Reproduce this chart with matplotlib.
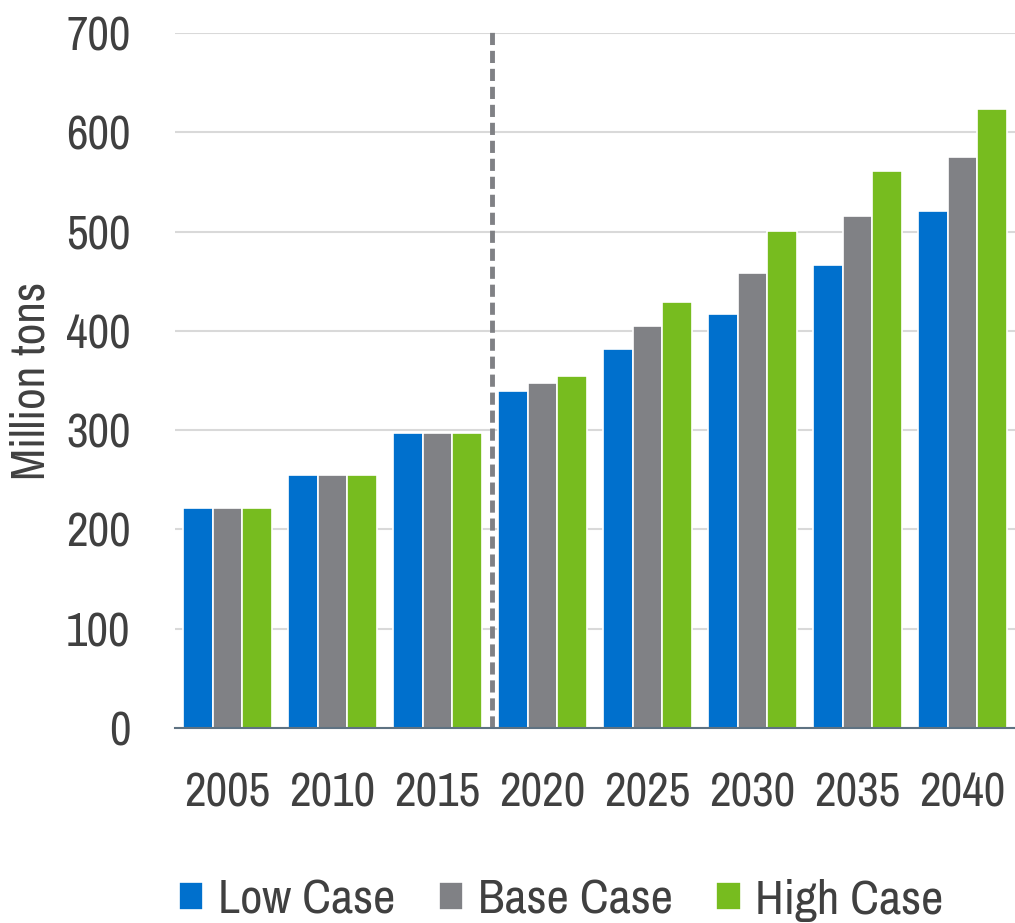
import matplotlib
matplotlib.use("Agg")
import matplotlib.pyplot as plt
import numpy as np
from matplotlib import font_manager

years = ["2005", "2010", "2015", "2020", "2025", "2030", "2035", "2040"]
low_case = [222, 255, 297, 339, 382, 417, 466, 521]
base_case = [222, 255, 297, 347, 405, 458, 516, 575]
high_case = [222, 255, 297, 355, 429, 501, 561, 623]
series_names = ["Low Case", "Base Case", "High Case"]
colors = ["#0070CD", "#808185", "#77BC1F"]

# pick a narrow sans face if one is installed
entries = font_manager.fontManager.ttflist
narrow = [f for f in entries if "Narrow" in f.name or "Narrow" in f.fname]
condensed = [f for f in entries if f.name == "DejaVu Sans" and str(f.stretch) in ("condensed", "semi-condensed", "600", "700")
             or "Condensed" in f.fname]
if narrow:
    fp = font_manager.FontProperties(fname=[f for f in narrow if "Bold" not in f.fname and "Italic" not in f.fname][0].fname)
elif condensed:
    cf = [f for f in condensed if "Bold" not in f.fname and "Oblique" not in f.fname and "Sans" in f.fname and "Mono" not in f.fname]
    fp = font_manager.FontProperties(fname=cf[0].fname)
else:
    fp = font_manager.FontProperties(family="Liberation Sans")

text_color = "#404040"

fig = plt.figure(figsize=(10.15, 9.23), dpi=100)
ax = fig.add_axes([175 / 1015, 1 - 728 / 923, 840 / 1015, (728 - 33) / 923])

x = np.arange(len(years))
w = 0.28
for i, (vals, name, c) in enumerate(zip([low_case, base_case, high_case], series_names, colors)):
    ax.bar(x + (i - 1) * w, vals, width=w, color=c, edgecolor="white", linewidth=1.2,
           label=name, zorder=3)

ax.set_xlim(-0.5, len(years) - 0.5)
ax.set_ylim(0, 700)
ax.set_yticks(range(0, 701, 100))
ax.yaxis.grid(True, color="#D9D9D9", linewidth=1.5, zorder=0)
ax.set_axisbelow(True)
for s in ["top", "right", "left"]:
    ax.spines[s].set_visible(False)
ax.spines["bottom"].set_color("#5E7282")
ax.spines["bottom"].set_linewidth(1.5)
ax.spines["bottom"].set_zorder(4)

ax.set_xticks(x)
ax.set_xticklabels(years)
ax.tick_params(axis="both", length=0, colors=text_color)
ax.tick_params(axis="x", pad=31)
ax.tick_params(axis="y", pad=32)
for t in ax.get_xticklabels() + ax.get_yticklabels():
    t.set_fontproperties(fp)
    t.set_fontsize(34)

ax.set_ylabel("Million tons", fontproperties=fp, fontsize=34, color=text_color, labelpad=10)

# forecast boundary
ax.plot([2.52, 2.52], [0, 706], linestyle=(0, (2.5, 1.2)), color="#808185",
        linewidth=3.5, clip_on=False, zorder=2)

lp = fp.copy()
lp.set_size(35)
leg = fig.legend(loc="lower center", bbox_to_anchor=(0.553, -0.03), ncol=3, frameon=False,
                 prop=lp, handlelength=0.5, handleheight=0.5, handletextpad=0.3,
                 columnspacing=0.9, labelcolor=text_color, borderaxespad=0.2)

fig.savefig("out.png", dpi=100)
